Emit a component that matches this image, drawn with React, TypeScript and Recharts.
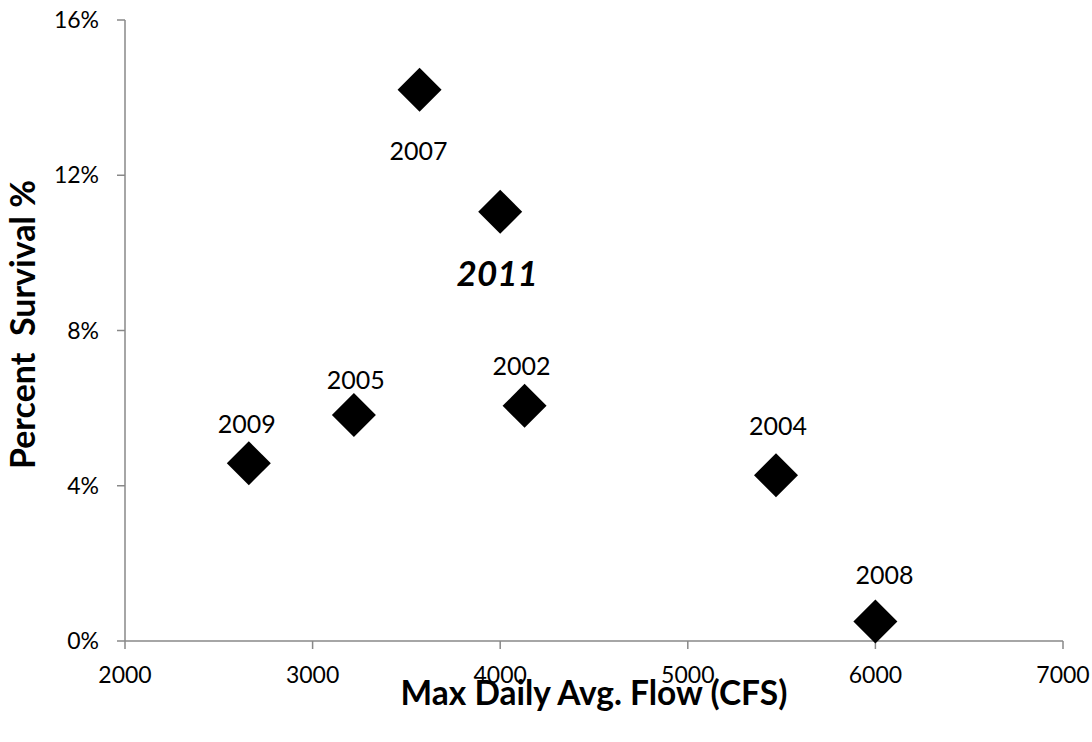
import { Label, Scatter, ScatterChart, XAxis, YAxis } from 'recharts';

const years = [2007, 2011, 2009, 2005, 2002, 2004, 2008];
const flowCfs = [3570, 4000, 2660, 3220, 4130, 5470, 6000];
const survivalPct = [14.2, 11.06, 4.58, 5.82, 6.06, 4.27, 0.5];
const xTicks = [2000, 3000, 4000, 5000, 6000, 7000];
const yTicks = [0, 4, 8, 12, 16];
const highlightYear = 2011;

// labels were placed by hand in the original, so keep per-year nudges (dx, dy from marker centre)
const labelNudge: Record<number, [number, number]> = {
  2007: [-1, 61],
  2011: [-3, 62],
  2009: [-2, -39],
  2005: [2, -35],
  2002: [-3, -40],
  2004: [2, -49],
  2008: [9, -47],
};

const points = years.map((year, i) => ({ year, flow: flowCfs[i], survival: survivalPct[i] }));

const FONT = 'Lato, "Open Sans", sans-serif';
const AXIS_GREY = '#888888';

function DiamondWithLabel(props: any) {
  const { cx, cy, payload } = props;
  const r = 22;
  const [dx, dy] = labelNudge[payload.year] ?? [0, -40];
  const hl = payload.year === highlightYear;
  const fs = hl ? 35 : 25;
  return (
    <g>
      <polygon points={`${cx},${cy - r} ${cx + r},${cy} ${cx},${cy + r} ${cx - r},${cy}`} fill="#000" />
      <text
        x={cx + dx}
        y={cy + dy + fs * 0.36}
        textAnchor="middle"
        fontFamily={FONT}
        fontSize={fs}
        fontWeight={hl ? 700 : 400}
        fontStyle={hl ? 'italic' : 'normal'}
        fill="#000"
      >
        {payload.year}
      </text>
    </g>
  );
}

export default function App() {
  return (
    <div style={{ position: 'absolute', left: 0, top: 0, width: 1092, height: 742, background: '#fff' }}>
      <ScatterChart width={1092} height={742} margin={{ top: 20, right: 29, bottom: 0, left: 0 }}>
        <XAxis
          type="number"
          dataKey="flow"
          domain={[2000, 7000]}
          ticks={xTicks}
          height={101}
          tickSize={8}
          tickMargin={18}
          stroke={AXIS_GREY}
          axisLine={{ stroke: AXIS_GREY, strokeWidth: 1.5 }}
          tickLine={{ stroke: AXIS_GREY, strokeWidth: 1.5 }}
          tick={{ fill: '#000', fontSize: 23, fontFamily: FONT }}
        >
          <Label
            content={({ viewBox }: any) => (
              <text
                x={viewBox.x + viewBox.width / 2}
                y={viewBox.y + 64}
                textAnchor="middle"
                fontFamily={FONT}
                fontSize={33.5}
                fontWeight={700}
                fill="#000"
              >
                Max Daily Avg. Flow (CFS)
              </text>
            )}
          />
        </XAxis>
        <YAxis
          type="number"
          dataKey="survival"
          domain={[0, 16]}
          ticks={yTicks}
          width={125}
          tickSize={8}
          tickMargin={18}
          stroke={AXIS_GREY}
          axisLine={{ stroke: AXIS_GREY, strokeWidth: 1.5 }}
          tickLine={{ stroke: AXIS_GREY, strokeWidth: 1.5 }}
          tick={{ fill: '#000', fontSize: 23, fontFamily: FONT }}
          tickFormatter={(v: number) => `${v}%`}
        >
          <Label
            content={({ viewBox }: any) => {
              const cy = viewBox.y + viewBox.height / 2 - 6;
              return (
                <text
                  x={35}
                  y={cy}
                  transform={`rotate(-90, 35, ${cy})`}
                  textAnchor="middle"
                  fontFamily={FONT}
                  fontSize={34}
                  fontWeight={700}
                  fill="#000"
                  xmlSpace="preserve"
                  style={{ whiteSpace: 'pre' }}
                >
                  {'Percent  Survival %'}
                </text>
              );
            }}
          />
        </YAxis>
        <Scatter data={points} shape={DiamondWithLabel} isAnimationActive={false} />
      </ScatterChart>
    </div>
  );
}
